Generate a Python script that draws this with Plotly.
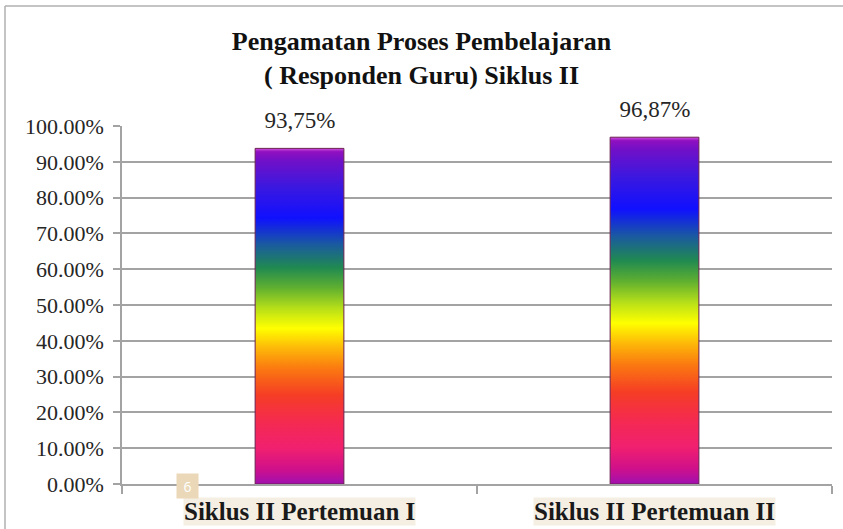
import plotly.graph_objects as go

categories = ["Siklus II Pertemuan I", "Siklus II Pertemuan II"]
values = [0.9375, 0.9687]
value_labels = ["93,75%", "96,87%"]
page_badge = "6"

SERIF = "Liberation Serif, Times New Roman, serif"
GRID = "#a3a3a3"
BAR_WIDTH = 0.25

# plot area in pixels: x 122..832, y 126..484
L, R, T, B = 122, 832, 126, 484
PW, PH = R - L, B - T

# rainbow fill, bottom (0) to top (1)
RAINBOW = [
    [0.0, "#a010b0"],
    [0.045, "#d0108a"],
    [0.105, "#f02070"],
    [0.185, "#f52a50"],
    [0.265, "#f53d25"],
    [0.345, "#fb7a10"],
    [0.405, "#fdb808"],
    [0.464, "#ffff00"],
    [0.522, "#b8e018"],
    [0.584, "#60b030"],
    [0.644, "#208a50"],
    [0.714, "#1a5aa0"],
    [0.793, "#1010ff"],
    [0.883, "#3a18e0"],
    [0.963, "#7010c8"],
    [0.99, "#9010c0"],
    [1.0, "#d050e0"],
]

fig = go.Figure()

for i, (name, v) in enumerate(zip(categories, values)):
    x0, x1 = i - BAR_WIDTH / 2, i + BAR_WIDTH / 2
    fig.add_trace(
        go.Scatter(
            x=[x0, x1, x1, x0, x0],
            y=[0, 0, v, v, 0],
            mode="lines",
            fill="toself",
            fillgradient={"type": "vertical", "colorscale": RAINBOW},
            line={"color": "#6a2050", "width": 1},
            name=name,
            hoverinfo="skip",
            showlegend=False,
        )
    )

annotations = []
for i, (v, lab) in enumerate(zip(values, value_labels)):
    annotations.append(
        {
            "x": i,
            "y": v,
            "xref": "x",
            "yref": "y",
            "text": lab,
            "showarrow": False,
            "yanchor": "middle",
            "yshift": 28,
            "width": 122,
            "height": 28,
            "bgcolor": "white",
            "font": {"family": SERIF, "size": 23, "color": "#262626"},
        }
    )

for i, name in enumerate(categories):
    annotations.append(
        {
            "x": i,
            "y": (B - 497) / PH,
            "xref": "x",
            "yref": "paper",
            "text": f"<b>{name}</b>",
            "showarrow": False,
            "yanchor": "top",
            "bgcolor": "#f5efe3",
            "borderpad": 0,
            "font": {"family": SERIF, "size": 25, "color": "#1a1a1a"},
        }
    )

# page number badge left over from the source document
annotations.append(
    {
        "x": (187.5 - L) / PW,
        "y": (B - 486) / PH,
        "xref": "paper",
        "yref": "paper",
        "xanchor": "center",
        "yanchor": "middle",
        "text": page_badge,
        "showarrow": False,
        "font": {"family": "Open Sans, sans-serif", "size": 14, "color": "white"},
        "bgcolor": "#ead8b8",
        "width": 17,
        "height": 20,
        "borderpad": 2,
    }
)

frame_x = (5 - L) / PW
frame_y = 1 + (T - 6) / PH

fig.update_layout(
    width=843,
    height=529,
    margin={"l": L, "r": 843 - R, "t": T, "b": 529 - B},
    paper_bgcolor="white",
    plot_bgcolor="white",
    font={"family": SERIF, "color": "#262626"},
    title={
        "text": "<b>Pengamatan Proses Pembelajaran<br>( Responden Guru) Siklus II</b>",
        "x": 0.5,
        "xanchor": "center",
        "y": 1 - 50 / 529,
        "yanchor": "middle",
        "font": {"family": SERIF, "size": 26, "color": "#111111"},
    },
    annotations=annotations,
    shapes=[
        {
            "type": "line",
            "xref": "paper",
            "yref": "paper",
            "x0": frame_x,
            "x1": frame_x,
            "y0": -0.2,
            "y1": frame_y,
            "line": {"color": "#b0b0b0", "width": 1.5},
        },
        {
            "type": "line",
            "xref": "paper",
            "yref": "paper",
            "x0": frame_x,
            "x1": 1.1,
            "y0": frame_y,
            "y1": frame_y,
            "line": {"color": "#b0b0b0", "width": 1.5},
        },
    ],
    showlegend=False,
)

fig.update_xaxes(
    range=[-0.5, 1.5],
    tickvals=[-0.5, 0.5, 1.5],
    ticktext=["", "", ""],
    ticks="outside",
    ticklen=8,
    tickcolor=GRID,
    tickwidth=1.5,
    showline=True,
    linecolor=GRID,
    linewidth=1.5,
    showgrid=False,
    zeroline=False,
    fixedrange=True,
)
fig.update_yaxes(
    range=[0, 1],
    dtick=0.1,
    tickformat=".2%",
    ticks="outside",
    ticklen=7,
    tickcolor=GRID,
    tickwidth=1.5,
    ticklabelstandoff=5,
    showline=True,
    linecolor=GRID,
    linewidth=1.5,
    showgrid=True,
    gridcolor=GRID,
    gridwidth=1.5,
    zeroline=False,
    tickfont={"family": SERIF, "size": 22, "color": "#262626"},
    fixedrange=True,
)

fig.write_html(
    "out.html",
    config={"displayModeBar": False},
    post_script="document.body.style.margin='0';",
)
